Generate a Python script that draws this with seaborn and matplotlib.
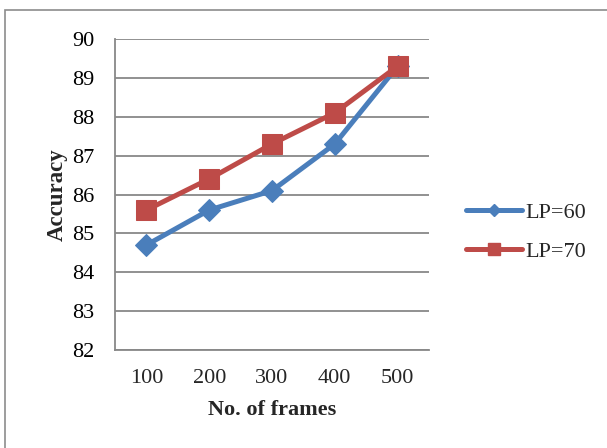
import matplotlib
matplotlib.use("Agg")
import matplotlib.pyplot as plt
from matplotlib.patches import Rectangle
from matplotlib.lines import Line2D
import seaborn as sns
import pandas as pd
import numpy as np

frames = ["100", "200", "300", "400", "500"]
lp60 = [84.7, 85.6, 86.1, 87.3, 89.3]
lp70 = [85.6, 86.4, 87.3, 88.1, 89.3]
yticks = [82, 83, 84, 85, 86, 87, 88, 89, 90]

sns.set_theme(style="white")
plt.rcParams["font.family"] = ["Liberation Serif", "DejaVu Serif"]

blue = "#4A7EBB"
red = "#BE4B48"
grid_c = "#888888"

fig = plt.figure(figsize=(6.07, 4.48), dpi=100)
ax = fig.add_axes([115 / 607, 1 - 350 / 448, (429 - 115) / 607, (350 - 39) / 448])

pos = np.arange(len(frames))
df = pd.DataFrame({
    "pos": np.concatenate([pos, pos]),
    "acc": lp60 + lp70,
    "series": ["LP=60"] * len(frames) + ["LP=70"] * len(frames),
})

sns.lineplot(data=df[df.series == "LP=60"], x="pos", y="acc", ax=ax,
             color=blue, lw=3.6, marker="D", markersize=11.5,
             markeredgecolor=blue, legend=False, zorder=3)
sns.lineplot(data=df[df.series == "LP=70"], x="pos", y="acc", ax=ax,
             color=red, lw=3.6, marker="s", markersize=14.5,
             markeredgecolor=red, legend=False, zorder=4)

ax.set_xlim(-0.5, len(frames) - 0.5)
ax.set_ylim(82, 90)
ax.set_yticks(yticks)
ax.set_yticklabels([str(t) for t in yticks], fontsize=16)

# category boundaries get tick marks, labels sit in between
ax.set_xticks(np.arange(-0.5, len(frames)), labels=[""] * (len(frames) + 1))
ax.set_xticks(pos, labels=frames, minor=True)
ax.tick_params(axis="x", which="minor", length=0, labelsize=16, pad=14)
ax.tick_params(axis="x", which="major", length=6, width=1.3, color=grid_c, direction="out")
ax.tick_params(axis="y", length=6, width=1.3, color=grid_c, direction="out", pad=9)
ax.tick_params(axis="both", labelcolor="black")

ax.yaxis.grid(True, color=grid_c, lw=1.3)
ax.xaxis.grid(False)
for side in ["top", "right"]:
    ax.spines[side].set_visible(False)
for side in ["left", "bottom"]:
    ax.spines[side].set_color(grid_c)
    ax.spines[side].set_linewidth(1.3)

ax.set_xlabel("No. of frames", fontsize=16, fontweight="bold", labelpad=8)
ax.set_ylabel("Accuracy", fontsize=16.5, fontweight="bold", labelpad=3)

handles = [
    Line2D([], [], color=blue, lw=3.6, marker="D", markersize=6, markeredgecolor=blue),
    Line2D([], [], color=red, lw=3.6, marker="s", markersize=9, markeredgecolor=red),
]
fig.legend(handles, ["LP=60", "LP=70"], loc="center left",
           bbox_to_anchor=(466 / 607, 1 - 232 / 448), frameon=False,
           fontsize=16, handlelength=2.5, handletextpad=0.15,
           labelspacing=0.85, borderaxespad=0, borderpad=0)

fig.patches.append(Rectangle((5 / 607, -0.1), 1.2, 1 - 10 / 448 + 0.1,
                             transform=fig.transFigure, fill=False,
                             edgecolor="#8c8c8c", lw=1.2))

fig.savefig("out.png", dpi=100, facecolor="white")
